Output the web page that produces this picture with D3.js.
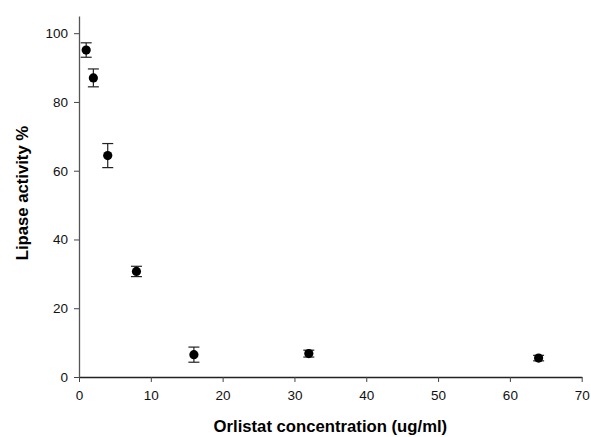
<!DOCTYPE html>
<html lang="en">
<head>
    <meta charset="utf-8">
    <title>Lipase activity</title>
    <style>
        body {
            margin: 0;
            background: white;
        }
        svg {
            font-family: "Liberation Sans", Arial, sans-serif;
        }
        .axis text {
            font-size: 13.5px;
            fill: #111;
        }
        .title {
            font-size: 16.7px;
            font-weight: bold;
        }
    </style>
</head>
<body>
<svg width="591" height="437"></svg>

<script src="https://d3js.org/d3.v7.min.js"></script>
<script>

    // data: concentration (ug/ml), mean activity %, error
    const conc = [1, 2, 4, 8, 16, 32, 64];
    const activity = [95.1, 87.0, 64.4, 30.7, 6.5, 6.8, 5.5];
    const err = [2.1, 2.6, 3.5, 1.5, 2.2, 1.0, 0.8];

    const xTicks = [0, 10, 20, 30, 40, 50, 60, 70];
    const yTicks = [0, 20, 40, 60, 80, 100];

    const margin = {top: 16, right: 9, bottom: 60, left: 79};

    const svg = d3.select("svg");
    const width = +svg.attr("width") - margin.left - margin.right;
    const height = +svg.attr("height") - margin.top - margin.bottom;

    const vis = svg.append("g")
        .attr("transform", `translate(${margin.left},${margin.top})`);

    const x = d3.scaleLinear().domain([0, 70]).range([0, 502.7]);
    const y = d3.scaleLinear().domain([0, 105]).range([height, 0]);

    // x axis
    const gx = vis.append("g")
        .attr("class", "axis")
        .attr("transform", `translate(0,${height})`)
        .call(d3.axisBottom(x).tickValues(xTicks).tickSize(5).tickPadding(8).tickSizeOuter(0));
    gx.select(".domain").attr("stroke", "#222").attr("stroke-width", 1.3);
    gx.selectAll(".tick line").attr("stroke", "#444");

    // y axis
    const gy = vis.append("g")
        .attr("class", "axis")
        .call(d3.axisLeft(y).tickValues(yTicks).tickSize(5).tickPadding(6).tickSizeOuter(0));
    gy.select(".domain").attr("stroke", "#555").attr("stroke-width", 1.3);
    gy.selectAll(".tick line").attr("stroke", "#444");

    const pts = conc.map((c, i) => ({c: c, v: activity[i], e: err[i]}));

    // error bars
    const eb = vis.selectAll(".err")
        .data(pts)
        .enter()
        .append("g")
        .attr("stroke", "#222")
        .attr("stroke-width", 1.2);
    eb.append("line")
        .attr("x1", d => x(d.c)).attr("x2", d => x(d.c))
        .attr("y1", d => y(d.v + d.e)).attr("y2", d => y(d.v - d.e));
    eb.append("line")
        .attr("x1", d => x(d.c) - 5.5).attr("x2", d => x(d.c) + 5.5)
        .attr("y1", d => y(d.v + d.e)).attr("y2", d => y(d.v + d.e));
    eb.append("line")
        .attr("x1", d => x(d.c) - 5.5).attr("x2", d => x(d.c) + 5.5)
        .attr("y1", d => y(d.v - d.e)).attr("y2", d => y(d.v - d.e));

    // points
    vis.selectAll(".dot")
        .data(pts)
        .enter()
        .append("circle")
        .attr("cx", d => x(d.c))
        .attr("cy", d => y(d.v))
        .attr("r", 4.6)
        .attr("fill", "black");

    // axis titles
    svg.append("text")
        .attr("class", "title")
        .attr("x", margin.left + x(35))
        .attr("y", 432)
        .attr("text-anchor", "middle")
        .text("Orlistat concentration (ug/ml)");

    svg.append("text")
        .attr("class", "title")
        .attr("transform", `translate(28,${margin.top + y(53.5)}) rotate(-90)`)
        .attr("text-anchor", "middle")
        .text("Lipase activity %");

</script>
</body>
</html>
